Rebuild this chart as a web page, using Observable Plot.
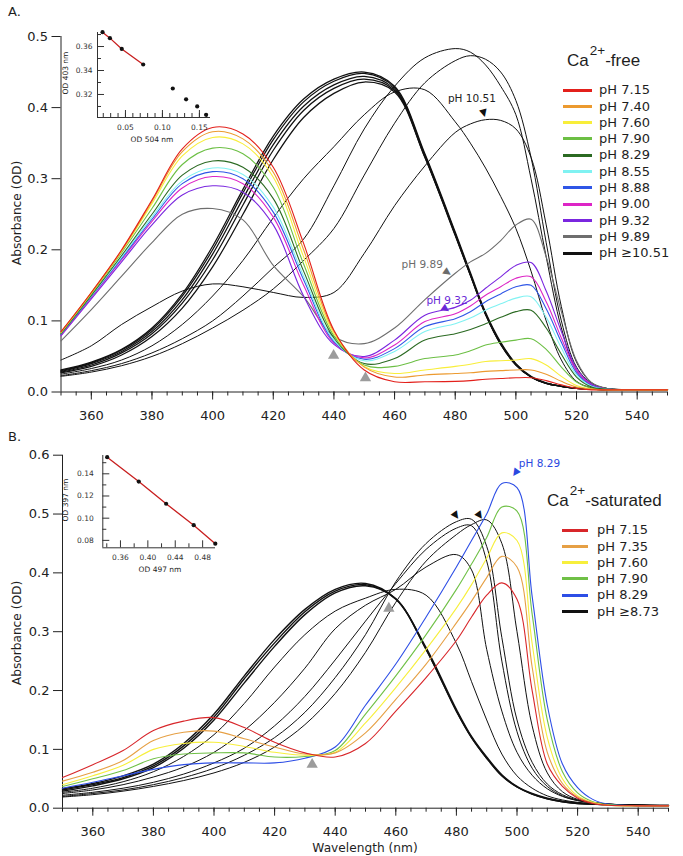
<!DOCTYPE html>
<html><head><meta charset="utf-8">
<script src="https://cdn.jsdelivr.net/npm/d3@7"></script>
<script src="https://cdn.jsdelivr.net/npm/@observablehq/plot@0.6"></script>
<style>
body{margin:0;background:#fff;}
#root{position:relative;width:683px;height:856px;overflow:hidden;font-family:"DejaVu Sans",sans-serif;color:#1e1e1e;background:#fff;}
#root svg{position:absolute;overflow:visible;}
.t{position:absolute;white-space:nowrap;line-height:16px;}
</style></head><body><div id="root"></div>
<script>
// ---------- shared wavelength grid (nm) ----------
const W = [350,360,370,380,390,400,410,420,430,440,450,460,470,480,485,490,495,500,505,510,515,520,525,530,540,550];
const majorTicks = [360,380,400,420,440,460,480,500,520,540];
const minorTicks = d3.range(350, 551, 5);
const yTicksA = [0,0.1,0.2,0.3,0.4,0.5];
const yTicksB = [0,0.1,0.2,0.3,0.4,0.5,0.6];

// ---------- Panel A : Ca2+-free ----------
const aPH715 = [0.085,0.14,0.2,0.27,0.342,0.372,0.363,0.316,0.209,0.087,0.031,0.0145,0.0145,0.015,0.016,0.018,0.019,0.02,0.02,0.016,0.01,0.005,0.003,0.003,0.003,0.003];
const aPH740 = [0.084,0.14,0.199,0.268,0.338,0.366,0.356,0.309,0.2,0.085,0.035,0.021,0.024,0.026,0.027,0.029,0.03,0.031,0.031,0.025,0.015,0.007,0.004,0.003,0.003,0.003];
const aPH760 = [0.084,0.139,0.198,0.265,0.332,0.358,0.349,0.302,0.19,0.082,0.036,0.026,0.031,0.036,0.039,0.043,0.044,0.045,0.047,0.038,0.022,0.009,0.004,0.003,0.003,0.003];
const aPH790 = [0.083,0.138,0.196,0.258,0.32,0.343,0.335,0.288,0.18,0.079,0.038,0.036,0.047,0.052,0.058,0.066,0.07,0.073,0.075,0.06,0.035,0.014,0.005,0.003,0.003,0.003];
const aPH829 = [0.082,0.136,0.192,0.25,0.305,0.325,0.316,0.272,0.17,0.076,0.04,0.047,0.073,0.082,0.088,0.096,0.105,0.113,0.115,0.09,0.053,0.021,0.007,0.004,0.003,0.003];
const aPH855 = [0.082,0.135,0.19,0.246,0.297,0.315,0.306,0.26,0.163,0.073,0.044,0.057,0.085,0.096,0.104,0.115,0.124,0.132,0.134,0.105,0.062,0.024,0.008,0.004,0.003,0.003];
const aPH888 = [0.081,0.134,0.188,0.243,0.293,0.31,0.3,0.253,0.158,0.071,0.046,0.061,0.092,0.103,0.113,0.127,0.138,0.148,0.15,0.117,0.07,0.027,0.009,0.004,0.003,0.003];
const aPH900 = [0.08,0.133,0.186,0.24,0.287,0.303,0.293,0.246,0.15,0.069,0.048,0.066,0.099,0.11,0.121,0.136,0.148,0.16,0.162,0.127,0.076,0.03,0.01,0.004,0.003,0.003];
const aPH932 = [0.079,0.131,0.183,0.235,0.277,0.29,0.281,0.235,0.135,0.067,0.05,0.073,0.108,0.119,0.129,0.146,0.162,0.178,0.182,0.142,0.085,0.033,0.011,0.004,0.003,0.003];
const aPH989 = [0.072,0.116,0.163,0.21,0.25,0.258,0.242,0.178,0.134,0.078,0.068,0.09,0.13,0.167,0.183,0.195,0.213,0.235,0.243,0.19,0.113,0.044,0.013,0.005,0.003,0.003];
// black spectra, pH >= 10.51
const aK1051 = [0.045,0.065,0.095,0.12,0.142,0.152,0.148,0.14,0.133,0.14,0.195,0.262,0.318,0.365,0.377,0.383,0.382,0.37,0.33,0.235,0.12,0.042,0.013,0.005,0.003,0.003];
const aK486 = [0.022,0.028,0.037,0.05,0.068,0.09,0.115,0.145,0.185,0.23,0.305,0.378,0.435,0.466,0.473,0.468,0.45,0.41,0.33,0.21,0.1,0.035,0.012,0.005,0.003,0.003];
const aK482 = [0.023,0.03,0.04,0.055,0.075,0.1,0.135,0.175,0.215,0.29,0.37,0.43,0.47,0.483,0.478,0.46,0.43,0.39,0.3,0.19,0.09,0.03,0.01,0.005,0.003,0.003];
const aK465 = [0.025,0.033,0.045,0.065,0.095,0.135,0.185,0.245,0.3,0.345,0.39,0.422,0.425,0.38,0.35,0.315,0.275,0.23,0.17,0.1,0.045,0.015,0.006,0.004,0.003,0.003];
const aT1 = [0.031,0.042,0.06,0.09,0.138,0.205,0.285,0.36,0.412,0.44,0.45,0.43,0.335,0.225,0.168,0.112,0.07,0.04,0.022,0.013,0.008,0.005,0.004,0.003,0.003,0.003];
const aT2 = [0.03,0.041,0.059,0.088,0.135,0.2,0.28,0.355,0.408,0.437,0.448,0.428,0.333,0.223,0.166,0.11,0.068,0.039,0.021,0.012,0.008,0.005,0.004,0.003,0.003,0.003];
const aT3 = [0.029,0.04,0.057,0.085,0.13,0.194,0.272,0.348,0.402,0.432,0.444,0.426,0.332,0.222,0.165,0.11,0.068,0.039,0.021,0.012,0.008,0.005,0.004,0.003,0.003,0.003];
const aT4 = [0.028,0.038,0.055,0.082,0.125,0.186,0.263,0.34,0.396,0.427,0.44,0.424,0.33,0.221,0.164,0.109,0.067,0.038,0.021,0.012,0.008,0.005,0.004,0.003,0.003,0.003];
const aT5 = [0.027,0.036,0.052,0.078,0.118,0.176,0.25,0.327,0.386,0.42,0.436,0.422,0.33,0.22,0.164,0.109,0.067,0.038,0.021,0.012,0.008,0.005,0.004,0.003,0.003,0.003];

const legendLabelsA = ["pH 7.15","pH 7.40","pH 7.60","pH 7.90","pH 8.29","pH 8.55","pH 8.88","pH 9.00","pH 9.32","pH 9.89","pH \u226510.51"];
const legendColorsA = ["#e3201b","#ec9a2f","#f8ee3a","#6cbf44","#2b6a22","#80f2f2","#2f56e6","#dd25c6","#7a26df","#6e6e6e","#111111"];

// inset A (OD 504 vs OD 403)
const insetAx = [0.019,0.029,0.045,0.074,0.114,0.132,0.147,0.159];
const insetAy = [0.372,0.367,0.358,0.345,0.325,0.316,0.310,0.303];
const insetAFitCount = 4;

// annotations A (data units)
const annA = [
  {nm:485.5, v:0.413, text:"pH 10.51", color:"#222"},
  {nm:469.1, v:0.179, text:"pH 9.89", color:"#6b6b6b"},
  {nm:477.3, v:0.128, text:"pH 9.32", color:"#6a28d6"}
];
const arrowsA = [
  {nm:489.4, v:0.393, rot:-15, color:"#111"},
  {nm:477.3, v:0.1685, rot:-55, color:"#6b6b6b"},
  {nm:476.7, v:0.117, rot:-55, color:"#6a28d6"}
];
const isoA = [{nm:439.9, v:0.0513},{nm:450.4, v:0.0197}];

// ---------- Panel B : Ca2+-saturated ----------
const bPH715 = [0.052,0.074,0.098,0.132,0.148,0.154,0.137,0.112,0.094,0.087,0.11,0.165,0.222,0.285,0.325,0.362,0.383,0.355,0.2,0.075,0.037,0.017,0.008,0.005,0.004,0.004];
const bPH735 = [0.046,0.061,0.081,0.115,0.129,0.131,0.118,0.104,0.092,0.094,0.128,0.185,0.245,0.315,0.352,0.392,0.428,0.41,0.24,0.095,0.042,0.019,0.009,0.005,0.004,0.004];
const bPH760 = [0.04,0.055,0.073,0.1,0.11,0.112,0.105,0.095,0.09,0.095,0.145,0.205,0.27,0.34,0.38,0.425,0.468,0.455,0.28,0.12,0.05,0.021,0.01,0.005,0.004,0.004];
const bPH790 = [0.037,0.05,0.064,0.084,0.092,0.094,0.094,0.087,0.088,0.098,0.16,0.225,0.295,0.372,0.415,0.46,0.512,0.505,0.33,0.15,0.062,0.026,0.011,0.006,0.004,0.004];
const bPH829 = [0.034,0.044,0.055,0.066,0.074,0.077,0.077,0.077,0.085,0.104,0.175,0.245,0.325,0.41,0.455,0.5,0.552,0.545,0.36,0.175,0.075,0.035,0.015,0.007,0.004,0.004];
// black spectra, pH >= 8.73
const bK1 = [0.019,0.023,0.029,0.037,0.047,0.06,0.078,0.104,0.142,0.195,0.265,0.35,0.42,0.465,0.482,0.49,0.45,0.3,0.14,0.06,0.028,0.015,0.01,0.007,0.005,0.004];
const bK2 = [0.02,0.025,0.031,0.04,0.052,0.068,0.09,0.12,0.163,0.222,0.295,0.385,0.45,0.487,0.491,0.445,0.29,0.15,0.078,0.041,0.023,0.014,0.01,0.007,0.005,0.004];
const bK3 = [0.022,0.027,0.034,0.044,0.058,0.077,0.102,0.14,0.19,0.252,0.318,0.382,0.44,0.476,0.48,0.42,0.25,0.13,0.068,0.037,0.021,0.013,0.009,0.007,0.005,0.004];
const bK4 = [0.025,0.031,0.04,0.053,0.07,0.095,0.132,0.18,0.238,0.305,0.345,0.372,0.41,0.431,0.405,0.27,0.165,0.095,0.056,0.033,0.02,0.013,0.009,0.007,0.005,0.004];
const bK5 = [0.027,0.034,0.045,0.062,0.088,0.125,0.178,0.24,0.295,0.335,0.357,0.372,0.362,0.28,0.215,0.15,0.092,0.055,0.034,0.021,0.014,0.01,0.008,0.006,0.005,0.004];
const bT1 = [0.033,0.042,0.055,0.075,0.11,0.16,0.225,0.287,0.338,0.372,0.382,0.356,0.273,0.168,0.122,0.087,0.057,0.037,0.025,0.017,0.012,0.009,0.007,0.006,0.005,0.005];
const bT2 = [0.031,0.04,0.052,0.072,0.106,0.155,0.22,0.281,0.334,0.369,0.38,0.355,0.27,0.165,0.12,0.085,0.055,0.036,0.024,0.016,0.011,0.008,0.007,0.006,0.005,0.004];
const bT3 = [0.029,0.038,0.05,0.069,0.102,0.15,0.213,0.275,0.329,0.366,0.378,0.356,0.27,0.165,0.12,0.085,0.055,0.036,0.024,0.016,0.011,0.008,0.007,0.006,0.005,0.004];

const legendLabelsB = ["pH 7.15","pH 7.35","pH 7.60","pH 7.90","pH 8.29","pH \u22658.73"];
const legendColorsB = ["#d8262a","#e6a045","#f7ef3c","#6fc046","#2d4ee6","#111111"];

// inset B (OD 497 vs OD 397)
const insetBx = [0.3406,0.3867,0.4267,0.467,0.4985];
const insetBy = [0.155,0.133,0.113,0.0937,0.077];

const annB = [{nm:507.4, v:0.586, text:"pH 8.29", color:"#2a48e0"}];
const arrowsB = [
  {nm:499.6, v:0.571, rot:35, color:"#2a48e0"},
  {nm:479.7, v:0.498, rot:-35, color:"#111"},
  {nm:487.6, v:0.498, rot:-35, color:"#111"}
];
const isoB = [{nm:432.4, v:0.0743},{nm:457.7, v:0.3396}];

// ---------- build tables ----------
const seriesA = [
  ...[aT1,aT2,aT3,aT4,aT5].map(v => ({values:v, color:"#111", width:1.25})),
  ...[aK465,aK482,aK486,aK1051].map(v => ({values:v, color:"#111", width:1})),
  ...[aPH989,aPH932,aPH900,aPH888,aPH855,aPH829,aPH790,aPH760,aPH740,aPH715].map((v,i) => ({values:v, color:legendColorsA[9-i], width:1.1}))
];
const seriesB = [
  ...[bT1,bT2,bT3].map(v => ({values:v, color:"#111", width:1.4})),
  ...[bK5,bK4,bK3,bK2,bK1].map(v => ({values:v, color:"#111", width:1})),
  ...[bPH829,bPH790,bPH760,bPH735,bPH715].map((v,i) => ({values:v, color:legendColorsB[4-i], width:1.1}))
];
const lineMarks = series => series.map(s => Plot.line(W.map((w,i) => ({w, v:s.values[i]})),
  {x:"w", y:"v", stroke:s.color, strokeWidth:s.width, curve:"catmull-rom", strokeLinejoin:"round"}));
const annMarks = (ann, arrows, iso) => [
  ...ann.map(a => Plot.text([a], {x:"nm", y:"v", text:"text", fill:a.color, fontSize:10.5})),
  ...arrows.map(a => Plot.text([a], {x:"nm", y:"v", text:() => "\u25BC", rotate:a.rot, fill:a.color, fontSize:10})),
  Plot.dot(iso, {x:"nm", y:"v", symbol:"triangle", r:4.2, fill:"#9c9c9c", stroke:"none"})
];
const font = "DejaVu Sans, sans-serif";
const axesMain = (yTicks) => [
  Plot.axisX({ticks:minorTicks, tickSize:4, fill:"none", stroke:"#222"}),
  Plot.axisX({ticks:majorTicks, tickSize:8, tickPadding:11, tickFormat:d => String(d), label:null, stroke:"#222", fill:"#222"}),
  Plot.axisY({ticks:yTicks, tickSize:9, tickPadding:4, tickFormat:d3.format(".1f"), label:null, stroke:"#222", fill:"#222"}),
  Plot.ruleY([0], {stroke:"#222"}),
  Plot.ruleX([350], {stroke:"#222"})
];

const chartA = Plot.plot({
  width:683, height:428, marginTop:36, marginBottom:36.5, marginLeft:60.5, marginRight:16,
  x:{domain:[350,550]}, y:{domain:[0,0.5]},
  style:{fontFamily:font, fontSize:"13px", color:"#222", background:"transparent"},
  marks:[...axesMain(yTicksA), ...lineMarks(seriesA), ...annMarks(annA, arrowsA, isoA)]
});
const chartB = Plot.plot({
  width:683, height:436, marginTop:34.7, marginBottom:48.3, marginLeft:62, marginRight:15,
  x:{domain:[350,550]}, y:{domain:[0,0.6]},
  style:{fontFamily:font, fontSize:"13px", color:"#222", background:"transparent"},
  marks:[...axesMain(yTicksB), ...lineMarks(seriesB), ...annMarks(annB, arrowsB, isoB)]
});

// insets
function inset(xs, ys, fitCount, o) {
  const pts = xs.map((x,i) => ({x, y:ys[i]}));
  return Plot.plot({
    width:o.w, height:o.h, marginLeft:o.ml, marginTop:o.mt, marginBottom:o.mb, marginRight:o.mr,
    x:{domain:o.xd}, y:{domain:o.yd},
    style:{fontFamily:font, fontSize:"7.5px", color:"#333", background:"transparent"},
    marks:[
      Plot.axisX({ticks:o.xMinor, tickSize:4, dy:-4, fill:"none", stroke:"#333"}),
      Plot.axisX({ticks:o.xMajor, tickSize:7, dy:-7, fill:"none", stroke:"#333"}),
      Plot.axisX({ticks:o.xMajor, tickSize:0, tickPadding:o.xPad, tickFormat:d3.format(".2f"), label:null, fill:"#333"}),
      Plot.axisY({ticks:o.yMinor, tickSize:4, dx:4, fill:"none", stroke:"#333"}),
      Plot.axisY({ticks:o.yMajor, tickSize:7, dx:7, fill:"none", stroke:"#333"}),
      Plot.axisY({ticks:o.yMajor, tickSize:0, tickPadding:o.yPad, tickFormat:d3.format(".2f"), label:null, fill:"#333"}),
      Plot.ruleX([o.xd[0]], {stroke:"#333"}),
      Plot.ruleY([o.yd[0]], {stroke:"#333"}),
      Plot.line(pts.slice(0, fitCount), {x:"x", y:"y", stroke:"#c81e1e", strokeWidth:1.3}),
      Plot.dot(pts, {x:"x", y:"y", r:2.1, fill:"#111"})
    ]
  });
}
const insetA = inset(insetAx, insetAy, insetAFitCount, {
  w:160, h:125, ml:37, mt:12, mb:8+20, mr:10, xd:[0.0122,0.165], yd:[0.3008,0.3717],
  xMinor:d3.range(0.02, 0.1651, 0.01), xMajor:[0.05,0.10,0.15], yMinor:[0.31,0.33,0.35,0.37], yMajor:[0.32,0.34,0.36], xPad:7, yPad:5
});
const insetB = inset(insetBx, insetBy, insetBx.length, {
  w:165, h:140, ml:42.3, mt:15, mb:32.7, mr:10, xd:[0.3342,0.4988], yd:[0.0733,0.1565],
  xMinor:[0.34,0.38,0.42,0.46], xMajor:[0.36,0.40,0.44,0.48], yMinor:[0.09,0.11,0.13,0.15], yMajor:[0.08,0.10,0.12,0.14], xPad:7, yPad:9
});

// ---------- assemble page ----------
const root = document.getElementById("root");
function put(el, left, top) { el.style.left = left + "px"; el.style.top = top + "px"; root.appendChild(el); return el; }
put(chartA, 0, 0);
put(chartB, 0, 420);
put(insetA, 60, 20);
put(insetB, 60, 440);

function text(str, left, top, css) {
  const d = document.createElement("div"); d.className = "t"; d.textContent = str;
  Object.assign(d.style, css || {}); return put(d, left, top);
}
function rotLabel(str, cx, cy, size) {
  const d = document.createElement("div"); d.className = "t"; d.textContent = str;
  Object.assign(d.style, {fontSize:size+"px", transform:"translate(-50%,-50%) rotate(-90deg)"});
  return put(d, cx, cy);
}
function centered(str, cx, cy, size) {
  const d = document.createElement("div"); d.className = "t"; d.textContent = str;
  Object.assign(d.style, {fontSize:size+"px", transform:"translate(-50%,-50%)"});
  return put(d, cx, cy);
}
text("A.", 8, 4, {fontSize:"13px"});
text("B.", 8, 429, {fontSize:"13px"});
rotLabel("Absorbance (OD)", 17, 213, 12.2);
rotLabel("Absorbance (OD)", 17, 633, 12.2);
centered("Wavelength (nm)", 365, 848, 12.2);
// inset labels
centered("OD 504 nm", 152, 140, 7.5);
rotLabel("OD 403 nm", 66, 73, 7.5);
centered("OD 497 nm", 160, 570, 7.5);
rotLabel("OD 397 nm", 66, 500, 7.5);

function caTitle(rest, left, baseline) {
  const d = document.createElement("div"); d.className = "t";
  Object.assign(d.style, {fontFamily:"'Liberation Sans', Arial, sans-serif", fontSize:"17px", lineHeight:"17px"});
  d.innerHTML = 'Ca<span style="font-size:13.5px;position:relative;top:-11px;margin-left:1px">2+</span>' + rest;
  return put(d, left, baseline - 14.4);
}
caTitle("-free", 567, 66.7);
caTitle("-saturated", 547, 506.7);

function legend(labels, colors, x0, x1, tx, y0, step) {
  labels.forEach((lab, i) => {
    const y = y0 + i * step;
    const ln = document.createElement("div");
    Object.assign(ln.style, {position:"absolute", width:(x1-x0)+"px", height:"3px", background:colors[i]});
    put(ln, x0, y - 1.5);
    text(lab, tx, y - 7.8, {fontSize:"13px"});
  });
}
legend(legendLabelsA, legendColorsA, 563, 592, 599, 90, 16.3);
legend(legendLabelsB, legendColorsB, 562, 588, 597, 530, 16.3);
</script>
</body></html>
